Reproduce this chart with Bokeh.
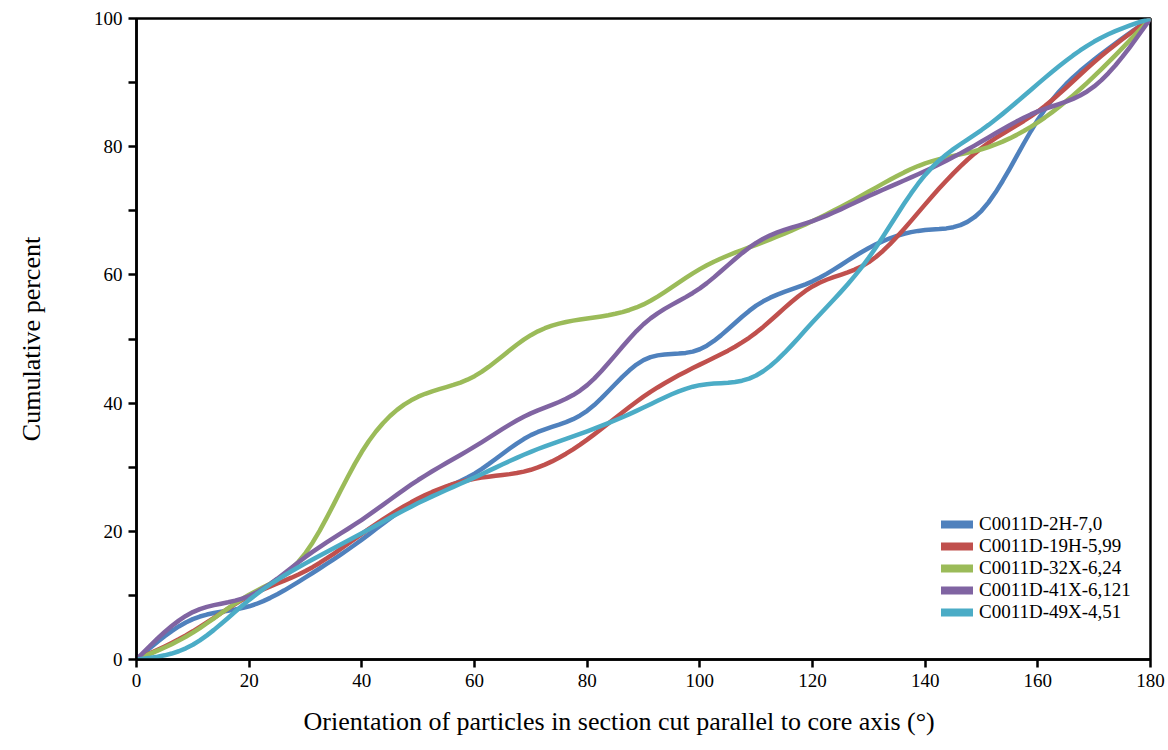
import numpy as np
from bokeh.plotting import figure
from bokeh.models import FixedTicker, Legend, LegendItem, Range1d, Title
from bokeh.embed import file_html
from bokeh.resources import INLINE

angles = [0, 10, 20, 30, 40, 50, 60, 70, 80, 90, 100, 110, 120, 130, 140, 150, 160, 170, 180]
s_2h = [0, 6.3, 8.3, 12.8, 18.7, 24.9, 29.0, 35.0, 38.8, 46.7, 48.4, 55.2, 59.0, 64.2, 67.0, 70.0, 84.2, 93.6, 100]
s_19h = [0, 4.4, 9.9, 13.8, 19.6, 25.1, 28.2, 29.6, 34.3, 41.0, 46.0, 51.0, 58.2, 62.0, 71.0, 79.8, 85.5, 93.2, 100]
s_32x = [0, 4.2, 10.1, 16.6, 32.4, 41.0, 44.2, 50.6, 53.2, 55.4, 60.9, 64.7, 68.4, 73.0, 77.4, 79.6, 83.8, 91.0, 100]
s_41x = [0, 7.4, 9.9, 16.0, 21.8, 28.0, 33.2, 38.4, 42.8, 52.3, 57.9, 65.0, 68.4, 72.3, 76.2, 80.8, 85.5, 89.4, 100]
s_49x = [0, 2.3, 9.3, 15.0, 19.7, 24.4, 28.4, 32.4, 35.6, 39.3, 42.8, 44.3, 52.6, 62.7, 75.6, 82.6, 89.8, 96.4, 100]
names = ["C0011D-2H-7,0", "C0011D-19H-5,99", "C0011D-32X-6,24", "C0011D-41X-6,121", "C0011D-49X-4,51"]
colors = ["#4F81BD", "#C0504D", "#9BBB59", "#8064A2", "#4BACC6"]
x_ticks = [0, 20, 40, 60, 80, 100, 120, 140, 160, 180]
y_ticks = [0, 10, 20, 30, 40, 50, 60, 70, 80, 90, 100]
y_labels = ["0", "", "20", "", "40", "", "60", "", "80", "", "100"]
x_title = "Orientation of particles in section cut parallel to core axis (°)"
y_title = "Cumulative percent"


def smooth(x, y, n=8):
    # natural cubic spline through the data points (for drawing a smooth curve)
    x = np.asarray(x, float)
    y = np.asarray(y, float)
    k = len(x)
    h = np.diff(x)
    A = np.zeros((k, k))
    b = np.zeros(k)
    A[0, 0] = 1
    A[-1, -1] = 1
    for i in range(1, k - 1):
        A[i, i - 1] = h[i - 1]
        A[i, i] = 2 * (h[i - 1] + h[i])
        A[i, i + 1] = h[i]
        b[i] = 3 * ((y[i + 1] - y[i]) / h[i] - (y[i] - y[i - 1]) / h[i - 1])
    c = np.linalg.solve(A, b)
    xs, ys = [], []
    for i in range(k - 1):
        bi = (y[i + 1] - y[i]) / h[i] - h[i] * (2 * c[i] + c[i + 1]) / 3
        di = (c[i + 1] - c[i]) / (3 * h[i])
        t = np.linspace(0, h[i], n, endpoint=False)
        xs.extend(x[i] + t)
        ys.extend(y[i] + bi * t + c[i] * t ** 2 + di * t ** 3)
    xs.append(x[-1])
    ys.append(y[-1])
    return xs, ys


FONT = "Liberation Serif"

p = figure(width=1168, height=750, output_backend="svg", toolbar_location=None,
           x_range=Range1d(0, 180), y_range=Range1d(0, 100),
           min_border_left=136, min_border_right=18, min_border_top=18, min_border_bottom=90)
p.grid.visible = False
p.outline_line_color = "black"
p.outline_line_width = 2.5
p.outline_line_alpha = 1

series = [s_2h, s_19h, s_32x, s_41x, s_49x]
items = []
for name, col, ser in zip(names, colors, series):
    xs, ys = smooth(angles, ser)
    p.line(xs, ys, line_color=col, line_width=4.5, line_cap="round", line_join="round")
    dummy = p.line(x=[float("nan")], y=[float("nan")], line_color=col, line_width=8, line_cap="round")
    items.append(LegendItem(label=name, renderers=[dummy]))

legend = Legend(items=items, location=(805, 36), label_text_font=FONT,
                label_text_font_size="19px", label_text_color="black",
                label_text_line_height=1.0,
                glyph_width=32, glyph_height=22,
                label_height=22, spacing=0, padding=4, border_line_color=None,
                background_fill_alpha=0, label_standoff=6)
p.add_layout(legend)

for ax in (p.xaxis[0], p.yaxis[0]):
    ax.axis_line_width = 2.5
    ax.axis_line_color = "black"
    ax.major_tick_line_width = 2.5
    ax.major_tick_line_color = "black"
    ax.major_tick_out = 8
    ax.major_tick_in = 0
    ax.minor_tick_line_color = None
    ax.major_label_text_font = FONT
    ax.major_label_text_font_size = "19px"
    ax.major_label_text_color = "black"
    ax.axis_label_text_font = FONT
    ax.axis_label_text_font_size = "26px"
    ax.axis_label_text_font_style = "normal"
    ax.axis_label_text_color = "black"

p.xaxis.ticker = FixedTicker(ticks=x_ticks)
p.yaxis.ticker = FixedTicker(ticks=y_ticks)
p.yaxis.major_label_overrides = {t: lab for t, lab in zip(y_ticks, y_labels)}
p.yaxis.axis_label = y_title
p.xaxis.major_label_standoff = 6
p.yaxis.major_label_standoff = 6
p.yaxis.axis_label_standoff = 45

xt = Title(text=x_title, align="left", offset=167, text_font=FONT, text_font_size="26px",
           text_font_style="normal", text_color="black", standoff=30,
           text_line_height=1.0, padding=0)
p.add_layout(xt, "below")

open("out.html", "w").write(file_html(p, INLINE))
